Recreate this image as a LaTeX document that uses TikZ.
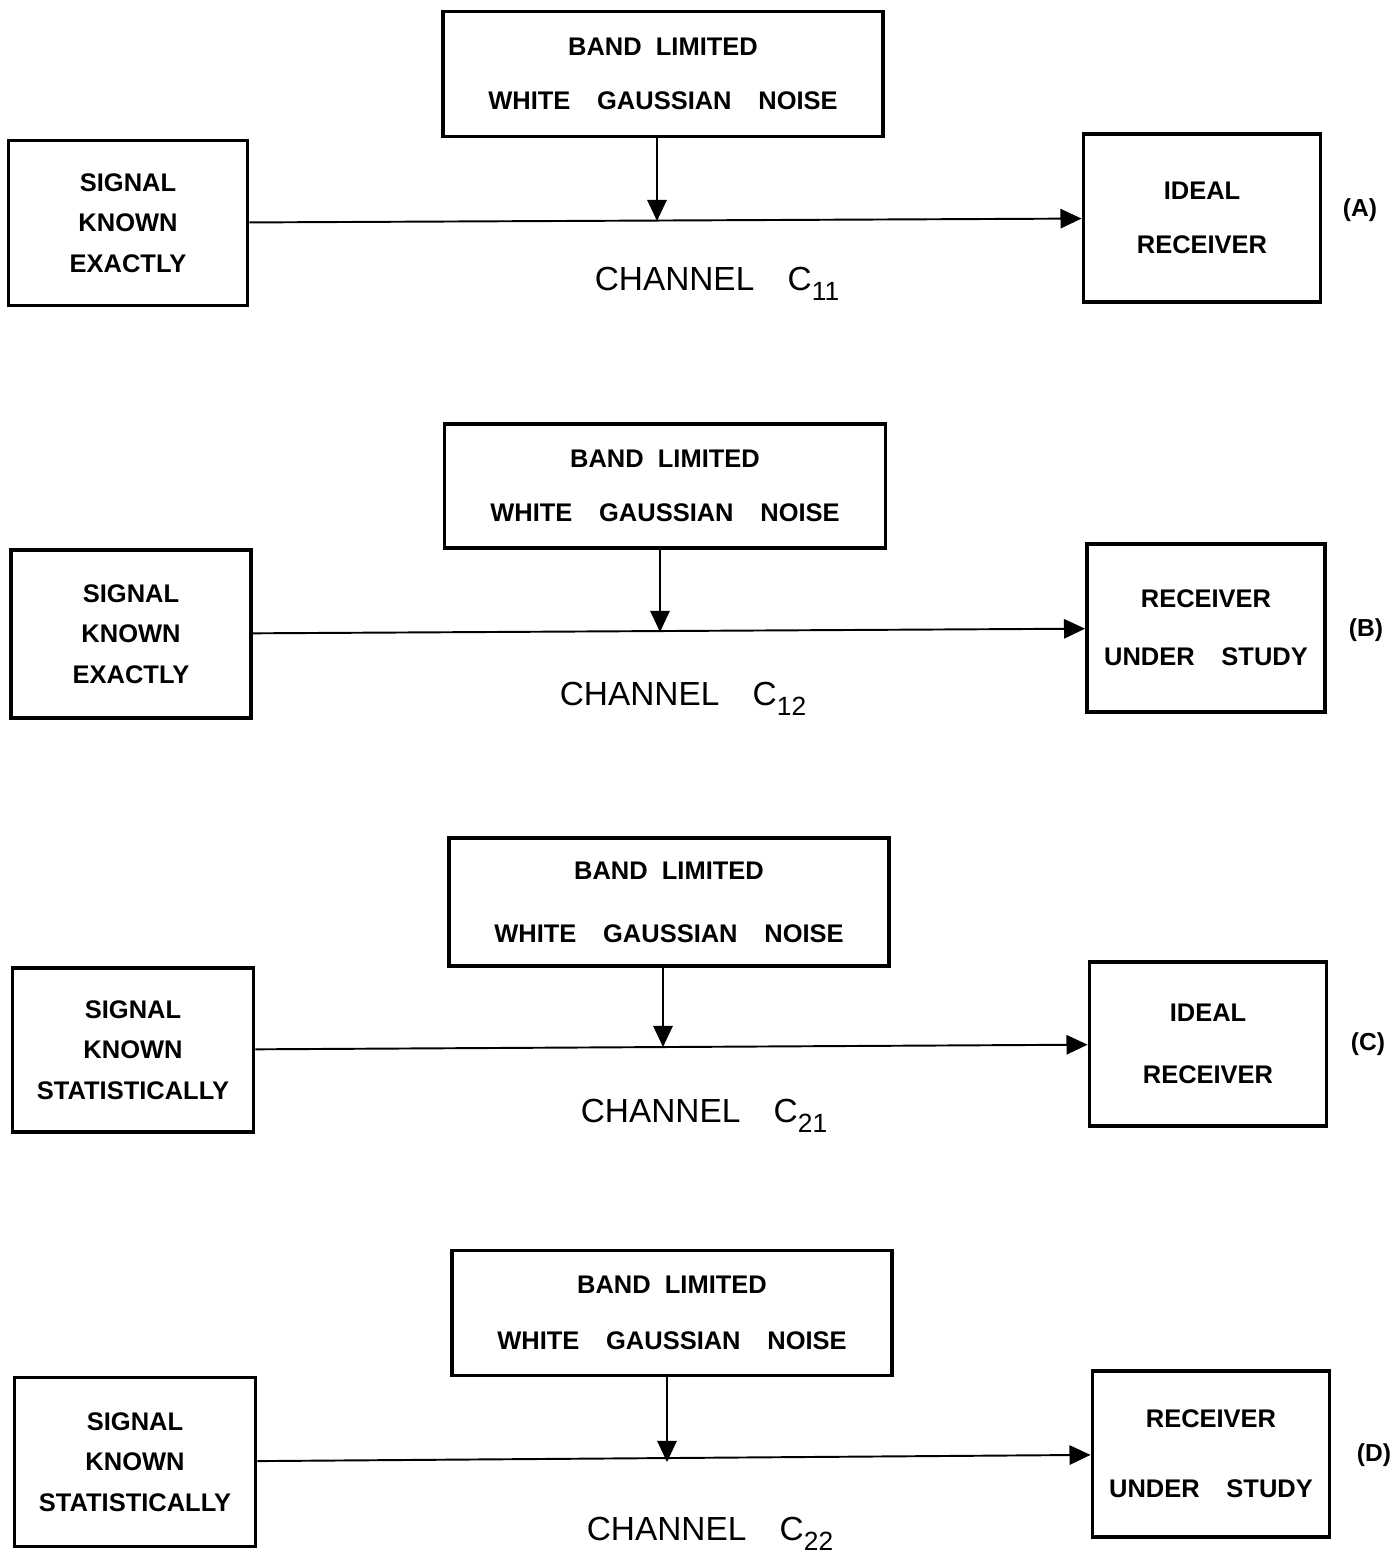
\documentclass[tikz,border=0pt]{standalone}
\usepackage{fontspec}
\setmainfont{Liberation Sans}
\usetikzlibrary{arrows.meta}
\newlength\pxu
\setlength\pxu{0.02cm}
\newcommand\chsub[1]{\raisebox{-0.3em}{\fontsize{15}{15}\selectfont#1}}
\newcommand\wgap{\hspace{1.05em}}

\begin{document}
\begin{tikzpicture}[x=0.02cm,y=-0.02cm,
    box/.style={draw,line width=2.2pt,align=center,inner sep=0pt,font=\fontsize{14.5}{23}\selectfont\bfseries},
    wire/.style={line width=1.1pt,-{Triangle[length=12pt,width=11pt]}},
    chan/.style={anchor=base,font=\fontsize{19}{19}\selectfont},
    tag/.style={font=\fontsize{14}{14}\selectfont\bfseries}]
    \useasboundingbox (0,0) rectangle (1396,1555);

    % (A)
    \node[box,minimum width=440\pxu,minimum height=125\pxu] (noiseA) at (663,74) {BAND\ \ LIMITED\\[8pt]WHITE\wgap GAUSSIAN\wgap NOISE};
    \node[box,minimum width=239\pxu,minimum height=165\pxu] (sigA) at (128,223) {SIGNAL\\KNOWN\\EXACTLY};
    \node[box,minimum width=237\pxu,minimum height=168\pxu] (recA) at (1202,218) {IDEAL\\[8pt]RECEIVER};
    \coordinate (jA) at (657,221);
    \node[chan] (chA) at (717,290) {CHANNEL\quad C\chsub{11}};
    \node[tag] (tA) at (1360,210) {(A)};

    \draw[wire] (sigA) -- (recA);
    \draw[wire] (noiseA.south -| jA) -- (jA);

    % (B)
    \node[box,minimum width=441\pxu,minimum height=124\pxu] (noiseB) at (665,486) {BAND\ \ LIMITED\\[8pt]WHITE\wgap GAUSSIAN\wgap NOISE};
    \node[box,minimum width=240\pxu,minimum height=168\pxu] (sigB) at (131,634) {SIGNAL\\KNOWN\\EXACTLY};
    \node[box,minimum width=238\pxu,minimum height=168\pxu] (recB) at (1206,628) {RECEIVER\\[10pt]UNDER\wgap STUDY};
    \coordinate (jB) at (660,632);
    \node[chan] (chB) at (683,705) {CHANNEL\quad C\chsub{12}};
    \node[tag] (tB) at (1366,630) {(B)};

    \draw[wire] (sigB) -- (recB);
    \draw[wire] (noiseB.south -| jB) -- (jB);

    % (C)
    \node[box,minimum width=440\pxu,minimum height=128\pxu] (noiseC) at (669,902) {BAND\ \ LIMITED\\[13pt]WHITE\wgap GAUSSIAN\wgap NOISE};
    \node[box,minimum width=241\pxu,minimum height=164\pxu] (sigC) at (133,1050) {SIGNAL\\KNOWN\\STATISTICALLY};
    \node[box,minimum width=237\pxu,minimum height=164\pxu] (recC) at (1208,1044) {IDEAL\\[12pt]RECEIVER};
    \coordinate (jC) at (663,1047);
    \node[chan] (chC) at (704,1122) {CHANNEL\quad C\chsub{21}};
    \node[tag] (tC) at (1368,1044) {(C)};

    \draw[wire] (sigC) -- (recC);
    \draw[wire] (noiseC.south -| jC) -- (jC);

    % (D)
    \node[box,minimum width=440\pxu,minimum height=125\pxu] (noiseD) at (672,1313) {BAND\ \ LIMITED\\[9pt]WHITE\wgap GAUSSIAN\wgap NOISE};
    \node[box,minimum width=241\pxu,minimum height=169\pxu] (sigD) at (135,1462) {SIGNAL\\KNOWN\\STATISTICALLY};
    \node[box,minimum width=237\pxu,minimum height=166\pxu] (recD) at (1211,1454) {RECEIVER\\[17pt]UNDER\wgap STUDY};
    \coordinate (jD) at (667,1462);
    \node[chan] (chD) at (710,1540) {CHANNEL\quad C\chsub{22}};
    \node[tag] (tD) at (1374,1455) {(D)};

    \draw[wire] (sigD) -- (recD);
    \draw[wire] (noiseD.south -| jD) -- (jD);

\end{tikzpicture}
\end{document}
